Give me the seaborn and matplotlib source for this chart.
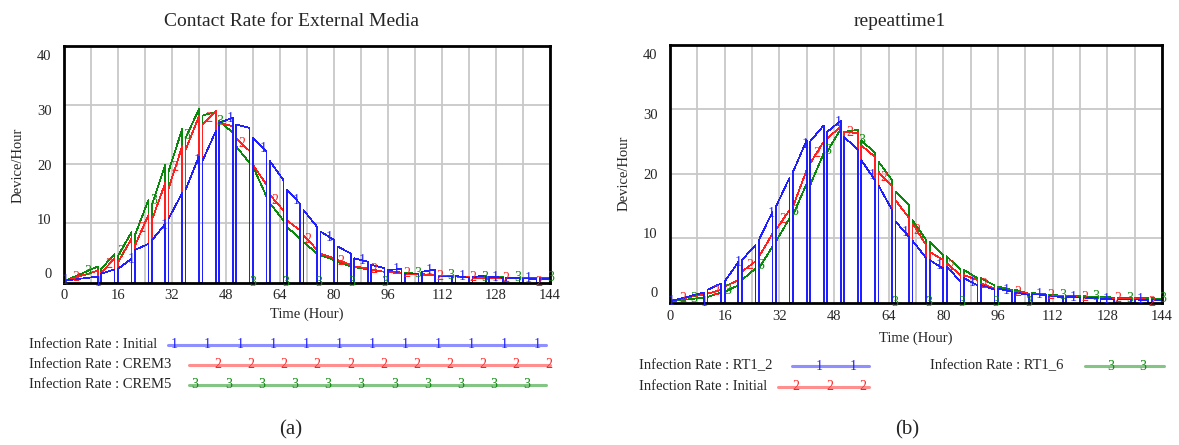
import numpy as np
import pandas as pd
import matplotlib
matplotlib.use("Agg")
import matplotlib.pyplot as plt
from matplotlib.lines import Line2D
import seaborn as sns

W, H = 1179, 445

# every 5 hours each run drops to zero for about an hour
DROP_T = list(range(10, 141, 5))
DROP_W = 1.0

# value at start / end of each stretch between drops
# stretch 0 = 0..10 h, stretch k = 5k+6 .. 5k+10 h, last = 141..144 h

# panel (a): Contact Rate for External Media
a_initial_start = [0.3, 1.5, 2.3, 5.5, 7.1, 10.8, 15.6, 20.5, 27.0, 26.7, 24.4, 20.5, 15.6, 12.2,
                   8.6, 6.1, 4.1, 3.0, 2.1, 1.5, 1.8, 1.0, 1.1, 0.9, 1.0, 0.8, 0.7, 0.6]
a_initial_end = [1.0, 2.2, 4.0, 6.5, 9.9, 15.1, 21.3, 25.6, 27.8, 26.1, 22.2, 17.3, 13.3, 9.4,
                 7.2, 4.9, 3.5, 2.4, 2.3, 1.5, 2.2, 1.0, 0.8, 1.2, 0.8, 0.7, 0.6, 0.6]
a_crem3_start = [0.2, 1.7, 3.4, 6.2, 10.5, 15.9, 22.4, 26.7, 27.0, 24.4, 19.9, 14.8, 10.5, 8.0,
                 4.9, 3.8, 2.7, 2.2, 1.7, 1.5, 1.3, 1.1, 1.0, 0.8, 0.8, 0.7, 0.7, 0.6]
a_crem3_end = [2.0, 4.0, 7.4, 11.4, 16.8, 23.0, 28.1, 29.0, 26.4, 22.2, 16.5, 12.2, 8.8, 5.5,
               4.1, 3.0, 2.4, 1.8, 1.6, 1.4, 1.2, 1.0, 0.9, 0.8, 0.7, 0.7, 0.7, 0.6]
a_crem5_start = [0.2, 2.3, 4.5, 8.0, 13.0, 18.8, 24.4, 28.2, 27.3, 23.0, 19.6, 13.4, 9.4, 6.8,
                 4.6, 3.5, 2.6, 2.1, 1.8, 1.6, 1.4, 1.2, 1.0, 1.0, 0.9, 0.8, 0.8, 0.8]
a_crem5_end = [2.7, 4.8, 8.5, 13.9, 19.9, 25.9, 29.3, 28.8, 25.3, 20.2, 14.5, 10.5, 7.4, 4.9,
               3.8, 2.7, 2.2, 1.8, 1.7, 1.5, 1.3, 1.1, 1.0, 0.9, 0.9, 0.8, 0.8, 0.8]

# panel (b): repeattime1
b_rt12_start = [0.2, 2.0, 3.3, 6.6, 9.7, 14.9, 20.3, 25.0, 26.5, 25.7, 22.1, 18.2, 12.6, 9.6,
                6.6, 5.6, 3.8, 2.7, 2.2, 1.6, 1.3, 1.0, 0.9, 0.8, 0.6, 0.5, 0.5, 0.5]
b_rt12_end = [1.6, 3.0, 6.3, 8.9, 14.1, 19.4, 25.2, 27.5, 28.2, 23.7, 19.0, 14.4, 10.2, 6.9,
              5.3, 3.3, 2.7, 2.0, 1.7, 1.2, 1.2, 0.9, 0.8, 0.7, 0.5, 0.5, 0.4, 0.4]
b_initial_start = [0.3, 1.4, 2.5, 4.8, 7.1, 11.3, 14.9, 21.6, 25.5, 26.5, 24.4, 20.3, 15.9, 12.3,
                   7.9, 6.1, 4.3, 3.0, 2.2, 1.7, 1.3, 1.1, 1.0, 0.8, 0.7, 0.6, 0.6, 0.5]
b_initial_end = [1.3, 2.0, 3.5, 6.4, 10.7, 14.4, 20.6, 25.0, 27.3, 26.3, 22.6, 18.0, 13.1, 8.9,
                 6.6, 4.3, 3.5, 2.2, 1.7, 1.4, 1.2, 1.0, 0.8, 0.7, 0.6, 0.6, 0.5, 0.5]
b_rt16_start = [0.2, 0.9, 1.7, 3.5, 5.3, 9.5, 13.6, 18.2, 23.4, 26.5, 25.2, 21.9, 17.2, 12.8,
                9.5, 7.2, 5.1, 3.8, 2.5, 2.0, 1.5, 1.2, 1.1, 1.0, 0.9, 0.8, 0.7, 0.7]
b_rt16_end = [0.8, 1.6, 2.7, 5.3, 8.7, 13.1, 18.5, 23.2, 27.0, 26.8, 23.2, 19.0, 15.1, 9.7,
              7.4, 5.1, 3.8, 2.7, 2.0, 1.4, 1.3, 1.1, 1.0, 0.9, 0.8, 0.7, 0.7, 0.6]

BLUE, RED, GREEN = "#2020ff", "#ff2020", "#0a8a0a"


def build(start, end):
   """Join the stretches with the one-hour drops to zero."""
   t, v = [0.0], [start[0]]
   for k, d in enumerate(DROP_T):
      t += [d, d, d + DROP_W, d + DROP_W]
      v += [end[k], 0.0, 0.0, start[k + 1]]
   t.append(144.0)
   v.append(end[-1])
   return t, v


def fx(x):
   return x / W


def fy(y):
   return 1 - y / H


def draw_panel(ax, series):
   frames = []
   for name, start, end, color, digit, offset in series:
      t, v = build(start, end)
      frames.append(pd.DataFrame({"t": t, "v": v, "run": name}))
   df = pd.concat(frames, ignore_index=True)
   order = [s[0] for s in series][::-1]   # first run on top
   pal = {s[0]: s[3] for s in series}
   sns.lineplot(data=df, x="t", y="v", hue="run", hue_order=order, palette=pal,
                estimator=None, sort=False, lw=0.5, legend=False, ax=ax,
                antialiased=False)
   # vensim style number markers along each line
   for name, start, end, color, digit, offset in series:
      t, v = build(start, end)
      for mt in np.arange(offset, 144.5, 9.8):
         ax.text(mt, np.interp(mt, t, v), digit, color=color, fontsize=10,
                 ha="center", va="center", clip_on=False, zorder=5)

   ax.set_xlim(0, 144)
   ax.set_ylim(0, 40)
   ax.set_xticks(range(0, 145, 16))
   ax.set_xticks(range(0, 145, 8), minor=True)
   # vensim puts the y labels a bit off the grid lines
   ax.set_yticks([1.6, 10.8, 19.9, 29.2, 38.5])
   ax.set_yticklabels(["0", "10", "20", "30", "40"])
   ax.set_yticks([10, 20, 30], minor=True)
   ax.grid(False)
   ax.grid(True, which="minor", color="#c8c8c8", lw=1.3)
   ax.xaxis.grid(True, which="major", color="#c8c8c8", lw=1.3)
   ax.set_axisbelow(True)
   ax.tick_params(which="both", length=0, labelsize=10.5)
   ax.tick_params(axis="x", pad=5)
   ax.tick_params(axis="y", pad=9)
   ax.set_xlabel("")
   ax.set_ylabel("")
   for sp in ax.spines.values():
      sp.set_visible(True)
      sp.set_color("black")
      sp.set_linewidth(2.0)


def legend_row(fig, label, y, x_text, x0, x1, marks, digit, color):
   fig.text(fx(x_text), fy(y), label, ha="left", va="center", fontsize=10.5)
   fig.add_artist(Line2D([fx(x0), fx(x1)], [fy(y), fy(y)], transform=fig.transFigure,
                         color=color, lw=2.2, alpha=0.5))
   for mx in marks:
      fig.text(fx(mx), fy(y), digit, color=color, ha="center", va="center", fontsize=10)


def main():
   sns.set_style("white")
   plt.rcParams["font.family"] = ["Liberation Serif", "DejaVu Serif"]

   fig = plt.figure(figsize=(W / 100, H / 100), dpi=100)
   ax_a = fig.add_axes([fx(64), fy(282.5), fx(486), 236.8 / H])
   ax_b = fig.add_axes([fx(670), fy(302.7), fx(492), 257.9 / H])

   draw_panel(ax_a, [
      ("Initial", a_initial_start, a_initial_end, BLUE, "1", 0.3),
      ("CREM3", a_crem3_start, a_crem3_end, RED, "2", 3.6),
      ("CREM5", a_crem5_start, a_crem5_end, GREEN, "3", 6.9),
   ])
   draw_panel(ax_b, [
      ("RT1_2", b_rt12_start, b_rt12_end, BLUE, "1", 0.3),
      ("Initial", b_initial_start, b_initial_end, RED, "2", 3.7),
      ("RT1_6", b_rt16_start, b_rt16_end, GREEN, "3", 7.0),
   ])

   fig.text(fx(292), fy(21), "Contact Rate for External Media", ha="center", va="center", fontsize=14)
   fig.text(fx(900), fy(21), "repeattime1", ha="center", va="center", fontsize=14)
   fig.text(fx(18), fy(165), "Device/Hour", rotation=90, ha="center", va="center", fontsize=10.5)
   fig.text(fx(624), fy(173), "Device/Hour", rotation=90, ha="center", va="center", fontsize=10.5)
   fig.text(fx(307), fy(314), "Time (Hour)", ha="center", va="center", fontsize=10.5)
   fig.text(fx(916), fy(338), "Time (Hour)", ha="center", va="center", fontsize=10.5)

   legend_row(fig, "Infection Rate : Initial", 345, 29, 168, 546, np.linspace(174, 537, 12), "1", BLUE)
   legend_row(fig, "Infection Rate : CREM3", 365, 29, 189, 550, np.linspace(218, 549, 11), "2", RED)
   legend_row(fig, "Infection Rate : CREM5", 385, 29, 189, 546, np.linspace(195, 527, 11), "3", GREEN)
   legend_row(fig, "Infection Rate : RT1_2", 366, 639, 792, 869, [819, 853], "1", BLUE)
   legend_row(fig, "Infection Rate : Initial", 387, 639, 778, 869, [796, 830, 863], "2", RED)
   legend_row(fig, "Infection Rate : RT1_6", 366, 930, 1085, 1164, [1111, 1143], "3", GREEN)

   fig.text(fx(291), fy(430), "(a)", ha="center", va="center", fontsize=15)
   fig.text(fx(907), fy(430), "(b)", ha="center", va="center", fontsize=15)

   fig.savefig("out.png", dpi=100)


if __name__ == "__main__":
   main()
